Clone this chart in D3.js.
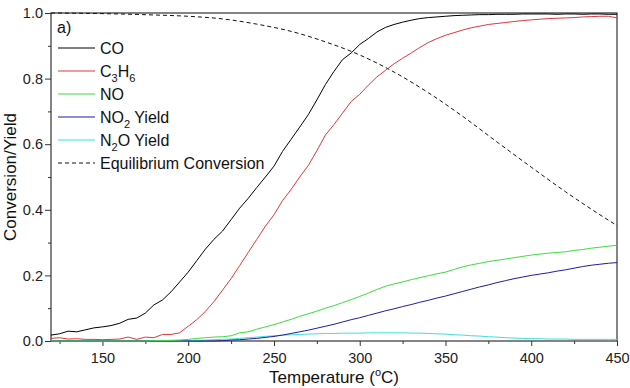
<!DOCTYPE html>
<html>
<head>
<meta charset="utf-8">
<script src="https://cdn.jsdelivr.net/npm/d3@7"></script>
<style>
  html, body { margin: 0; padding: 0; background: #fff; }
  svg { display: block; font-family: 'Liberation Sans', Arial, sans-serif; }
</style>
</head>
<body>
<svg id="chart" width="630" height="388"></svg>
<script>
// temperature grid (°C), 5 degree steps
const temperature = d3.range(120, 451, 5)

const coValues = [
  0.018, 0.022, 0.030, 0.028, 0.034, 0.040, 0.043, 0.047, 0.054, 0.066,
  0.070, 0.085, 0.110, 0.125, 0.150, 0.180, 0.210, 0.245, 0.280, 0.310,
  0.335, 0.370, 0.405, 0.435, 0.468, 0.500, 0.533, 0.578, 0.615, 0.652,
  0.690, 0.735, 0.782, 0.822, 0.858, 0.878, 0.904, 0.922, 0.942, 0.956,
  0.965, 0.972, 0.978, 0.983, 0.986, 0.988, 0.990, 0.992, 0.993, 0.994,
  0.995, 0.995, 0.996, 0.996, 0.996, 0.997, 0.997, 0.997, 0.997, 0.996,
  0.997, 0.997, 0.996, 0.997, 0.997, 0.996, 0.996
]

const c3h6Values = [
  0.008, 0.010, 0.006, 0.007, 0.005, 0.005, 0.004, 0.005, 0.006, 0.012,
  0.005, 0.012, 0.010, 0.020, 0.020, 0.025, 0.045, 0.065, 0.090, 0.120,
  0.155, 0.190, 0.230, 0.270, 0.310, 0.350, 0.385, 0.428, 0.462, 0.500,
  0.535, 0.580, 0.628, 0.660, 0.695, 0.730, 0.752, 0.780, 0.805, 0.825,
  0.845, 0.862, 0.878, 0.895, 0.910, 0.922, 0.932, 0.940, 0.948, 0.955,
  0.960, 0.965, 0.968, 0.971, 0.974, 0.977, 0.979, 0.981, 0.983, 0.984,
  0.985, 0.986, 0.988, 0.989, 0.990, 0.990, 0.985
]

const noValues = [
  0.000, 0.000, 0.000, 0.000, 0.000, 0.000, 0.000, 0.000, 0.000, 0.000,
  0.000, 0.000, 0.001, 0.001, 0.002, 0.003, 0.005, 0.008, 0.010, 0.012,
  0.013, 0.016, 0.025, 0.028, 0.036, 0.043, 0.050, 0.058, 0.066, 0.075,
  0.083, 0.091, 0.100, 0.108, 0.117, 0.126, 0.136, 0.146, 0.157, 0.167,
  0.174, 0.180, 0.187, 0.193, 0.199, 0.205, 0.210, 0.218, 0.226, 0.232,
  0.237, 0.242, 0.246, 0.250, 0.254, 0.258, 0.262, 0.265, 0.268, 0.270,
  0.272, 0.276, 0.279, 0.283, 0.286, 0.289, 0.292
]

const no2Values = [
  0.000, 0.000, 0.000, 0.000, 0.000, 0.000, 0.000, 0.000, 0.000, 0.000,
  0.000, 0.000, 0.000, 0.000, 0.000, 0.000, 0.000, 0.000, 0.000, 0.000,
  0.001, 0.003, 0.004, 0.006, 0.008, 0.011, 0.014, 0.018, 0.023, 0.028,
  0.033, 0.039, 0.045, 0.051, 0.058, 0.065, 0.071, 0.078, 0.085, 0.092,
  0.098, 0.105, 0.111, 0.118, 0.124, 0.131, 0.137, 0.144, 0.151, 0.158,
  0.165, 0.171, 0.178, 0.184, 0.190, 0.195, 0.200, 0.204, 0.208, 0.213,
  0.217, 0.222, 0.227, 0.231, 0.234, 0.237, 0.239
]

const n2oValues = [
  0.000, 0.000, 0.000, 0.000, 0.000, 0.000, 0.000, 0.000, 0.000, 0.000,
  0.000, 0.000, 0.000, 0.000, 0.000, 0.000, 0.001, 0.002, 0.003, 0.004,
  0.005, 0.006, 0.008, 0.010, 0.012, 0.014, 0.016, 0.018, 0.019, 0.020,
  0.021, 0.022, 0.023, 0.023, 0.024, 0.024, 0.024, 0.025, 0.025, 0.025,
  0.025, 0.025, 0.024, 0.024, 0.023, 0.022, 0.021, 0.019, 0.018, 0.016,
  0.015, 0.013, 0.012, 0.010, 0.009, 0.008, 0.007, 0.007, 0.006, 0.006,
  0.006, 0.005, 0.005, 0.005, 0.005, 0.005, 0.005
]

// equilibrium conversion, every 20 degrees
const eqTemperature = [120, 140, 160, 180, 200, 220, 240, 260, 280, 300, 320, 340, 360, 380, 400, 420, 440, 450]
const eqValues = [1.0, 0.999, 0.997, 0.994, 0.990, 0.982, 0.966, 0.944, 0.912, 0.872, 0.820, 0.757, 0.685, 0.607, 0.530, 0.455, 0.385, 0.352]

const xTicks = [150, 200, 250, 300, 350, 400, 450]
const yTicks = [0, 0.2, 0.4, 0.6, 0.8, 1.0]

const series = [
  { id: 'co', label: [['CO']], values: coValues, color: '#000000' },
  { id: 'c3h6', label: [['C'], ['3', 'sub'], ['H'], ['6', 'sub']], values: c3h6Values, color: '#e0383a' },
  { id: 'no', label: [['NO']], values: noValues, color: '#3edc3e' },
  { id: 'no2', label: [['NO'], ['2', 'sub'], [' Yield']], values: no2Values, color: '#1e1e9e' },
  { id: 'n2o', label: [['N'], ['2', 'sub'], ['O Yield']], values: n2oValues, color: '#40dede' }
]

const margin = { top: 13, right: 13, bottom: 47, left: 51 }
const width = 630 - margin.left - margin.right
const height = 388 - margin.top - margin.bottom

const svg = d3.select('#chart')
const g = svg.append('g').attr('transform', `translate(${margin.left},${margin.top})`)

const x = d3.scaleLinear().domain([120, 450]).range([0, width])
const y = d3.scaleLinear().domain([0, 1]).range([height, 0])

/* --------- AXES --------- */
const xMinor = d3.range(125, 450, 25).filter(t => !xTicks.includes(t))
const yMinor = d3.range(0.1, 1, 0.2)

g.append('g')
  .attr('transform', `translate(0,${height})`)
  .call(d3.axisBottom(x).tickValues(xMinor).tickSize(3).tickFormat(''))
g.append('g')
  .attr('transform', `translate(0,${height})`)
  .call(d3.axisBottom(x).tickValues(xTicks).tickSize(5).tickPadding(7).tickFormat(d3.format('d')))
g.append('g')
  .call(d3.axisLeft(y).tickValues(yMinor).tickSize(3).tickFormat(''))
g.append('g')
  .call(d3.axisLeft(y).tickValues(yTicks).tickSize(6).tickPadding(2).tickFormat(d3.format('.1f')))

g.selectAll('.domain').remove()
g.selectAll('.tick line').attr('stroke', '#333')
g.selectAll('.tick text').attr('font-size', 14.5).attr('fill', '#222').attr('font-family', null)

// frame
g.append('rect')
  .attr('width', width)
  .attr('height', height)
  .attr('fill', 'none')
  .attr('stroke', '#333')
  .attr('stroke-width', 1.2)

/* --------- CURVES --------- */
const line = d3.line()
  .x(d => x(d[0]))
  .y(d => y(d[1]))

const plot = g.append('g')

plot.append('path')
  .datum(d3.zip(eqTemperature, eqValues))
  .attr('fill', 'none')
  .attr('stroke', '#111')
  .attr('stroke-width', 1)
  .attr('stroke-dasharray', '4,3')
  .attr('d', line.curve(d3.curveMonotoneX))

line.curve(d3.curveLinear)
series.slice().reverse().forEach(s => {
  plot.append('path')
    .datum(d3.zip(temperature, s.values))
    .attr('fill', 'none')
    .attr('stroke', s.color)
    .attr('stroke-width', 1)
    .attr('d', line)
})

/* --------- LEGEND --------- */
g.append('text')
  .attr('x', 6)
  .attr('y', 20)
  .attr('font-size', 16)
  .attr('fill', '#111')
  .text('a)')

const legendItems = series.concat([{ id: 'eq', label: [['Equilibrium Conversion']], color: '#111', dash: '4,3' }])
const legend = g.append('g').attr('transform', 'translate(7,35)')

legendItems.forEach((s, i) => {
  const row = legend.append('g').attr('transform', `translate(0,${i * 23})`)
  row.append('line')
    .attr('x1', 0).attr('x2', 37)
    .attr('stroke', s.color)
    .attr('stroke-width', 1)
    .attr('stroke-dasharray', s.dash || null)
  const t = row.append('text')
    .attr('x', 42)
    .attr('y', 6)
    .attr('font-size', 16)
    .attr('fill', '#111')
  let shifted = false
  s.label.forEach(([txt, kind]) => {
    const span = t.append('tspan').text(txt)
    if (kind === 'sub') {
      span.attr('font-size', 11).attr('dy', 5)
      shifted = true
    } else if (shifted) {
      span.attr('dy', -5)
      shifted = false
    }
  })
})

/* --------- AXIS TITLES --------- */
const xTitle = svg.append('text')
  .attr('x', margin.left + width / 2)
  .attr('y', 383)
  .attr('text-anchor', 'middle')
  .attr('font-size', 17)
  .attr('fill', '#111')
xTitle.append('tspan').text('Temperature (')
xTitle.append('tspan').text('o').attr('font-size', 11).attr('dy', -7)
xTitle.append('tspan').text('C)').attr('dy', 7)

svg.append('text')
  .attr('transform', `translate(16,${margin.top + height / 2}) rotate(-90)`)
  .attr('text-anchor', 'middle')
  .attr('font-size', 17)
  .attr('fill', '#111')
  .text('Conversion/Yield')
</script>
</body>
</html>
